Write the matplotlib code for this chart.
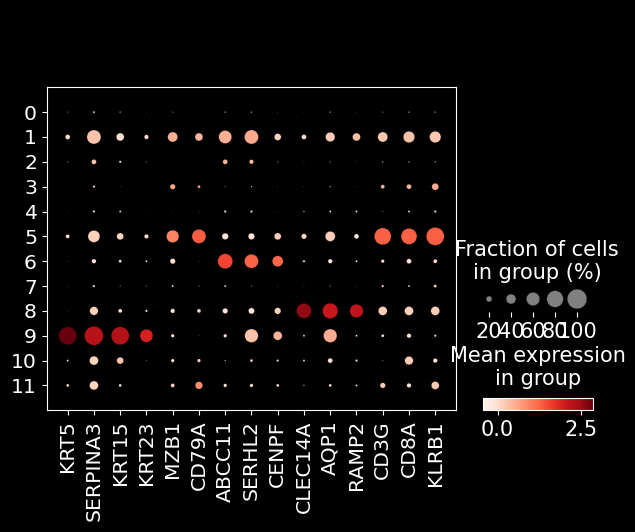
import numpy as np
import matplotlib
matplotlib.use("Agg")
import matplotlib.pyplot as plt
from matplotlib.colors import Normalize
from matplotlib.cm import ScalarMappable

genes = ["KRT5", "SERPINA3", "KRT15", "KRT23", "MZB1", "CD79A", "ABCC11", "SERHL2",
         "CENPF", "CLEC14A", "AQP1", "RAMP2", "CD3G", "CD8A", "KLRB1"]
groups = [str(i) for i in range(12)]

# fraction of cells expressing (%) per group (rows) x gene (cols)
frac_pct = [
    [2, 5, 3, 1, 2, 0.5, 3, 3, 1, 1, 3, 1, 2, 3, 3],
    [16, 64, 30, 14, 41, 30, 58, 64, 25, 16, 38, 30, 41, 49, 49],
    [2, 16, 6, 2, 0.5, 0.5, 16, 14, 2, 1, 2, 1, 3, 3, 3],
    [0.3, 6, 1, 0.3, 18, 8, 2, 3, 1, 1, 3, 1, 12, 16, 25],
    [1, 6, 5, 1, 1, 1, 6, 6, 1, 3, 5, 5, 2, 5, 6],
    [12, 52, 25, 14, 55, 64, 23, 23, 25, 18, 41, 16, 82, 76, 89],
    [1, 14, 8, 5, 18, 1, 70, 64, 46, 6, 14, 5, 10, 16, 12],
    [1, 6, 2, 2, 5, 2, 5, 2, 1, 1, 2, 1, 6, 5, 8],
    [1, 33, 12, 6, 14, 12, 18, 21, 23, 70, 73, 61, 35, 35, 35],
    [89, 95, 89, 58, 10, 1, 10, 61, 35, 5, 61, 5, 8, 14, 6],
    [5, 35, 25, 2, 10, 10, 3, 8, 6, 5, 16, 6, 2, 33, 14],
    [8, 35, 8, 0.3, 12, 28, 10, 10, 8, 3, 8, 5, 18, 14, 30],
]

# mean expression in group
mean_expr = [
    [-0.3, -0.1, -0.3, -0.3, -0.3, -0.45, -0.2, -0.2, -0.3, -0.3, -0.2, -0.3, -0.2, -0.2, -0.2],
    [0.0, 0.3, 0.0, 0.0, 0.5, 0.4, 0.5, 0.55, 0.1, 0.05, 0.2, 0.35, 0.25, 0.3, 0.25],
    [-0.2, 0.3, 0.0, -0.2, -0.3, -0.3, 0.45, 0.4, -0.2, -0.3, -0.2, -0.3, -0.2, -0.2, -0.2],
    [-0.3, 0.0, -0.2, -0.3, 0.6, 0.5, -0.2, -0.1, -0.3, -0.3, -0.1, -0.3, 0.4, 0.45, 0.55],
    [-0.2, -0.1, -0.1, -0.2, -0.2, -0.2, -0.1, -0.1, -0.2, -0.1, -0.1, -0.1, -0.2, -0.1, -0.1],
    [0.0, 0.15, 0.1, 0.05, 0.95, 1.32, -0.1, -0.1, 0.2, 0.1, 0.2, -0.1, 1.3, 1.3, 1.3],
    [-0.2, -0.1, -0.1, -0.1, 0.0, -0.2, 1.55, 1.28, 1.25, -0.1, -0.1, -0.1, 0.0, -0.1, 0.0],
    [-0.2, -0.1, -0.2, -0.2, -0.1, -0.2, -0.1, -0.2, -0.2, -0.2, -0.2, -0.2, 0.0, -0.1, 0.0],
    [-0.2, 0.15, -0.1, -0.1, -0.1, 0.1, -0.1, -0.1, 0.15, 2.6, 2.08, 2.2, 0.2, 0.15, 0.2],
    [2.88, 2.28, 2.3, 1.95, -0.1, -0.2, -0.1, 0.3, 0.45, -0.1, 0.55, -0.1, -0.1, -0.1, -0.1],
    [-0.1, 0.1, 0.3, -0.2, -0.1, 0.1, -0.1, -0.1, -0.1, -0.1, -0.1, -0.1, -0.2, 0.2, -0.1],
    [-0.1, 0.1, -0.1, -0.3, 0.1, 0.85, -0.1, -0.1, -0.1, -0.1, -0.1, -0.1, 0.2, -0.1, 0.25],
]

legend_pct = [20, 40, 60, 80, 100]

frac = np.array(frac_pct) / 100.0
expr = np.array(mean_expr)
largest_dot = 200.0


def dot_size(f):
    return (f ** 1.5) * largest_dot


fig = plt.figure(figsize=(6.35, 5.32), dpi=100, facecolor="black")

ax = fig.add_axes([0.0735, 0.2288, 0.645, 0.6071], facecolor="black")
yy, xx = np.meshgrid(np.arange(len(groups)), np.arange(len(genes)), indexing="ij")
norm = Normalize(vmin=expr.min(), vmax=expr.max())
ax.scatter(xx.ravel(), yy.ravel(), s=dot_size(frac.ravel()), c=expr.ravel(),
           cmap="Reds", norm=norm, edgecolors="black", linewidths=0.2)
ax.set_xlim(-0.8, len(genes) - 0.2)
ax.set_ylim(len(groups), -1)
ax.set_xticks(range(len(genes)))
ax.set_xticklabels(genes, rotation=90, fontsize=14.7, color="white")
ax.set_yticks(range(len(groups)))
ax.set_yticklabels(groups, fontsize=14.7, color="white")
ax.tick_params(colors="white")
for sp in ax.spines.values():
    sp.set_color("white")

# size legend
sax = fig.add_axes([0.7528, 0.4135, 0.1858, 0.0489], facecolor="black")
sax.scatter(range(len(legend_pct)), [0] * len(legend_pct),
            s=dot_size(np.array(legend_pct) / 100.0), color="gray",
            edgecolors="black", linewidths=0.2)
sax.set_xlim(-0.5, 4.86)
sax.set_ylim(-1, 1)
sax.set_xticks(range(len(legend_pct)))
sax.set_xticklabels([str(p) for p in legend_pct], fontsize=15, color="white")
sax.set_yticks([])
sax.tick_params(axis="x", colors="white")
for sp in sax.spines.values():
    sp.set_visible(False)
sax.set_title("Fraction of cells\nin group (%)", fontsize=15, color="white", pad=5)

# colorbar
cax = fig.add_axes([0.760, 0.2288, 0.1742, 0.0231])
cb = fig.colorbar(ScalarMappable(norm=norm, cmap="Reds"), cax=cax, orientation="horizontal")
cb.set_ticks([0.0, 2.5])
cb.ax.tick_params(colors="white", labelsize=15)
cb.outline.set_edgecolor("white")
cax.set_title("Mean expression\nin group", fontsize=15, color="white", pad=9)

fig.savefig("out.png", dpi=100, facecolor="black")
